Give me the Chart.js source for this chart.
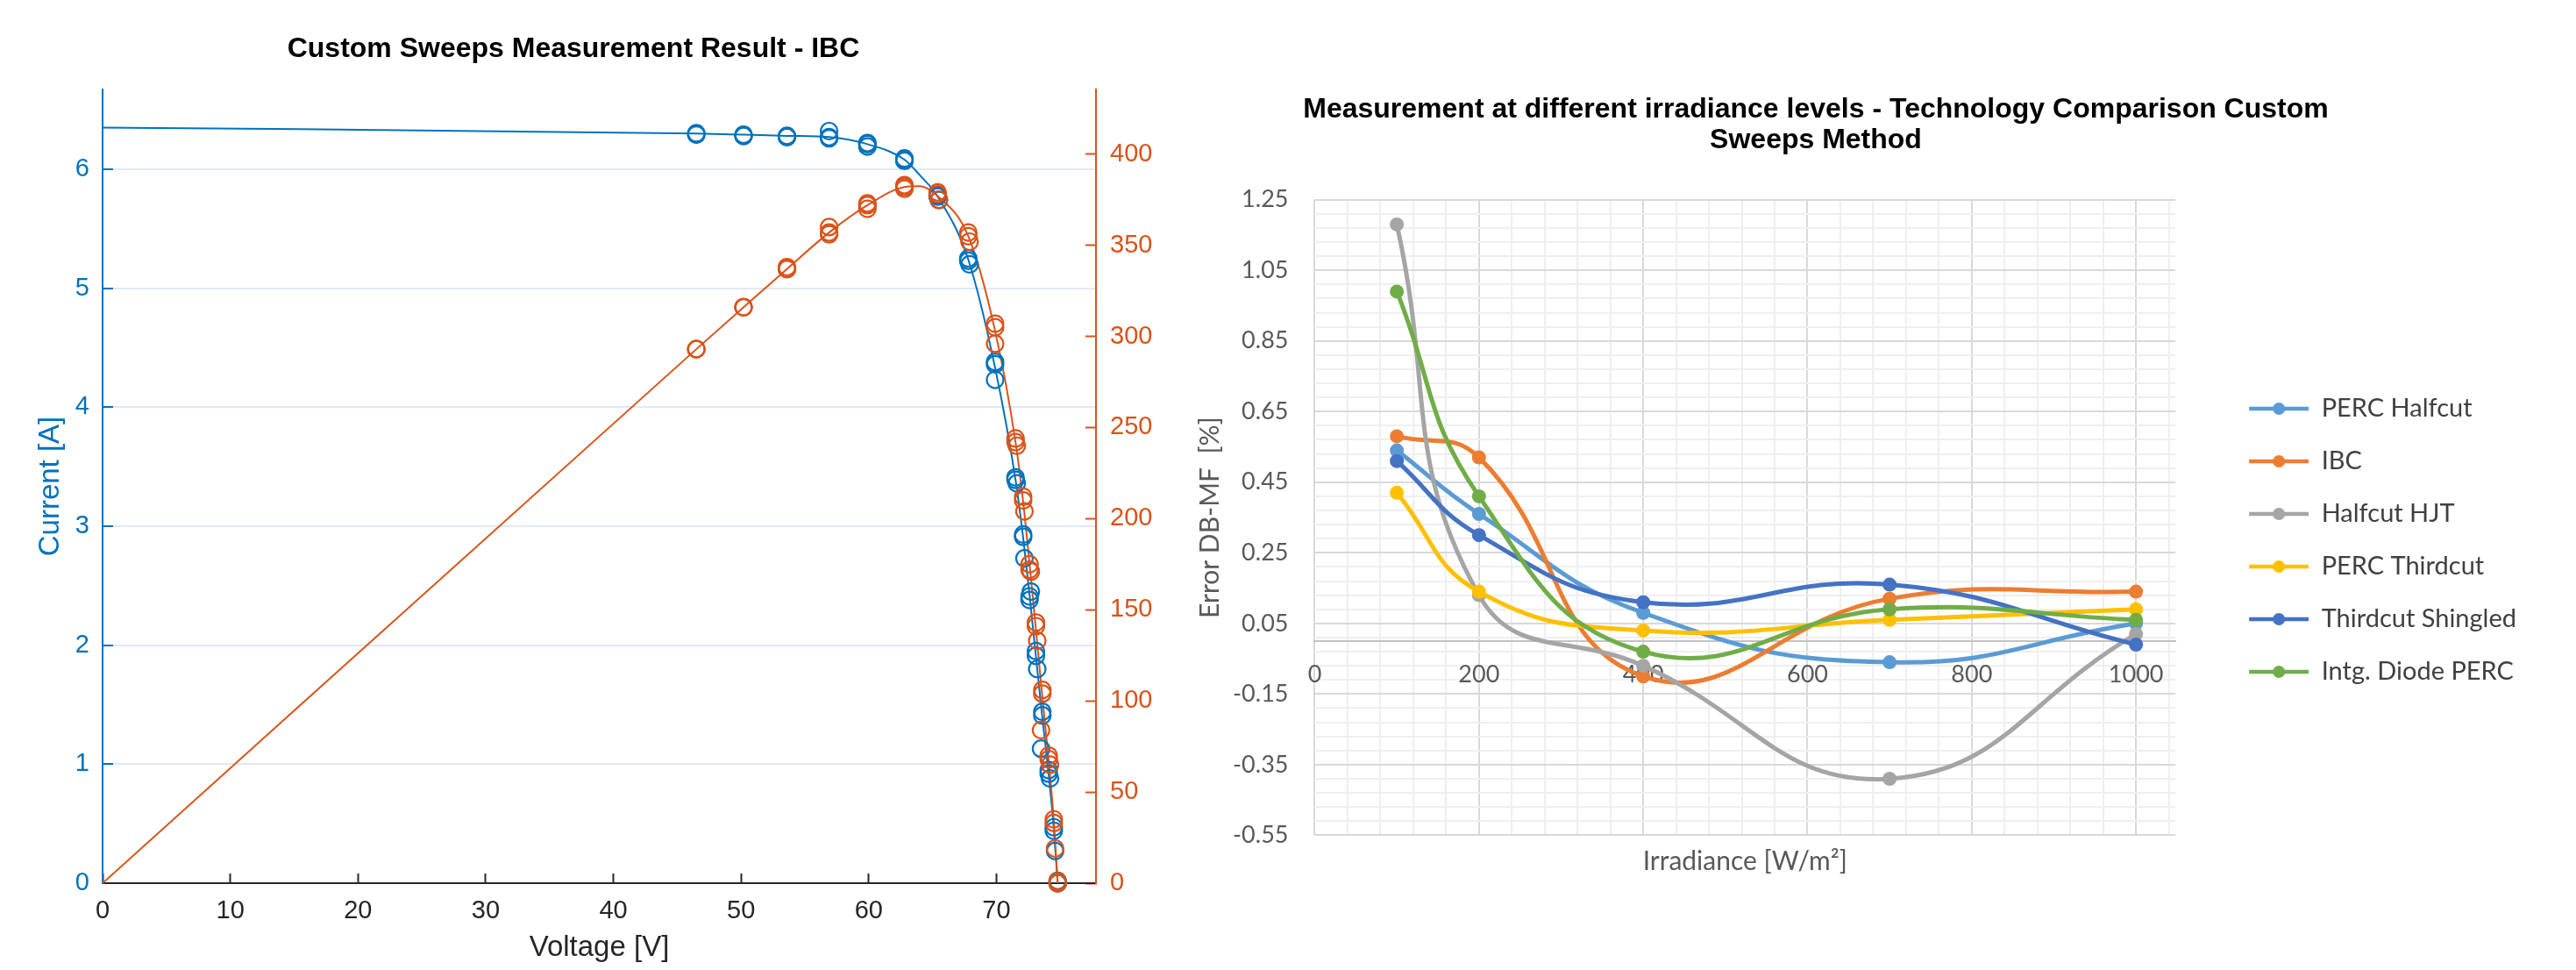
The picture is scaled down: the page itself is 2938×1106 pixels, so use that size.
<!DOCTYPE html>
<html lang="en">
<head>
<meta charset="utf-8">
<title>Custom Sweeps - IBC / Technology Comparison</title>
<script src="https://cdn.jsdelivr.net/npm/chart.js@4.4.1/dist/chart.umd.min.js"></script>
<style>
  html, body { margin: 0; padding: 0; background: #ffffff; }
  #page { position: relative; width: 2938px; height: 1106px; background: #ffffff; overflow: hidden; }
  #iv-chart { position: absolute; left: -20px; top: 0; }
  #err-chart { position: absolute; left: 1266px; top: 0; }
</style>
</head>
<body>
<div id="page">
  <canvas id="iv-chart" width="1348" height="1106"></canvas>
  <canvas id="err-chart" width="1610" height="1106"></canvas>
</div>
<script>
'use strict';

// *************** GLOBALS - LEFT CHART (IV / PV SWEEPS, IBC)
let voltageTicks = [0, 10, 20, 30, 40, 50, 60, 70];
let currentTicks = [0, 1, 2, 3, 4, 5, 6];
let powerTicks = [0, 50, 100, 150, 200, 250, 300, 350, 400];

// fitted curves
let fitVoltage = [0, 46.5, 50.2, 53.6, 56.9, 59.9, 62.8, 64.0, 65.4, 67.8, 69.9, 71.5, 72.1, 72.6, 73.1, 73.6, 74.1, 74.5, 74.8];
let fitCurrent = [6.35, 6.30, 6.29, 6.28, 6.27, 6.21, 6.08, 5.95, 5.77, 5.24, 4.33, 3.39, 2.90, 2.42, 1.90, 1.39, 0.91, 0.45, 0];
let fitPower = [0, 293, 316, 337, 357, 372, 382, 382.5, 377, 355, 303, 242, 209, 175, 139, 102, 67, 34, 0];

// measured sweeps (circles)
let sweepVoltageA = [46.5, 50.2, 53.6, 56.9, 59.9, 62.8, 65.4, 67.8, 69.9, 71.5, 72.1, 72.6, 73.1, 73.6, 74.1, 74.5, 74.8];
let sweepVoltageB = [46.5, 50.2, 53.6, 56.9, 59.9, 62.8, 65.5, 67.9, 69.9, 71.6, 72.2, 72.7, 73.2, 73.5, 74.2, 74.6, 74.8];
let currentSweepA = [6.29, 6.28, 6.27, 6.26, 6.21, 6.08, 5.77, 5.23, 4.36, 3.39, 2.91, 2.41, 1.91, 1.41, 0.92, 0.47, 0];
let currentSweepB = [6.30, 6.29, 6.28, 6.32, 6.19, 6.07, 5.74, 5.20, 4.23, 3.36, 2.73, 2.45, 1.80, 1.13, 0.88, 0.27, 0.02];
let currentSweepC = [6.30, 6.28, 6.27, 6.27, 6.22, 6.09, 5.78, 5.25, 4.38, 3.41, 2.93, 2.38, 1.95, 1.44, 0.95, 0.44, 0];
let powerSweepA = [293, 316, 337, 356, 372, 382, 378, 355, 305, 242, 210, 175, 141, 104, 68, 35, 0];
let powerSweepB = [293, 316, 337, 360, 370, 381, 375, 352, 296, 240, 204, 171, 133, 84, 65, 19, 1];
let powerSweepC = [293, 316, 338, 357, 373, 383, 379, 357, 307, 244, 212, 172, 143, 106, 70, 33, 0];

// *************** GLOBALS - RIGHT CHART (ERROR VS IRRADIANCE)
let irradianceTicks = [0, 200, 400, 600, 800, 1000];
let errorTicks = [-0.55, -0.35, -0.15, 0.05, 0.25, 0.45, 0.65, 0.85, 1.05, 1.25];
let irradiance = [100, 200, 400, 700, 1000];
let technologies = ['PERC Halfcut', 'IBC', 'Halfcut HJT', 'PERC Thirdcut', 'Thirdcut Shingled', 'Intg. Diode PERC'];
let percHalfcut = [0.54, 0.36, 0.08, -0.06, 0.05];
let ibc = [0.58, 0.52, -0.10, 0.12, 0.14];
let halfcutHjt = [1.18, 0.13, -0.07, -0.39, 0.02];
let percThirdcut = [0.42, 0.14, 0.03, 0.06, 0.09];
let thirdcutShingled = [0.51, 0.30, 0.11, 0.16, -0.01];
let intgDiodePerc = [0.99, 0.41, -0.03, 0.09, 0.06];

// *************** STYLE
const BLUE = '#0072BD';
const ORANGE = '#D95319';
const AXIS_DARK = '#262626';
const MATLAB_FONT = '"Liberation Sans", Arial, sans-serif';
const EXCEL_FONT = 'Lato, "Noto Sans", sans-serif';
const EXCEL_GREY = '#595959';
let excelColors = ['#5B9BD5', '#ED7D31', '#A5A5A5', '#FFC000', '#4472C4', '#70AD47'];

Chart.defaults.font.family = MATLAB_FONT;

// ***************** HELPER FUNCTIONS UTILITIES

function toPoints(xs, ys) {
  let pts = [];
  for (let i = 0; i < xs.length; i++) {
    pts.push({ x: xs[i], y: ys[i] });
  }
  return pts;
}

function circleSet(xs, ys, color, axisId) {
  return {
    data: toPoints(xs, ys),
    yAxisID: axisId,
    showLine: false,
    pointStyle: 'circle',
    pointRadius: 9.5,
    pointBorderWidth: 2.2,
    pointBorderColor: color,
    pointBackgroundColor: 'rgba(0,0,0,0)',
    borderColor: color,
    clip: false
  };
}

function fitLine(xs, ys, color, axisId) {
  return {
    data: toPoints(xs, ys),
    yAxisID: axisId,
    showLine: true,
    pointRadius: 0,
    borderColor: color,
    borderWidth: 2,
    cubicInterpolationMode: 'monotone'
  };
}

function makeLegendIcon(color) {
  let icon = document.createElement('canvas');
  icon.width = 121;
  icon.height = 18;
  let c = icon.getContext('2d');
  c.strokeStyle = color;
  c.lineWidth = 4.5;
  c.beginPath();
  c.moveTo(53, 9);
  c.lineTo(121, 9);
  c.stroke();
  c.fillStyle = color;
  c.beginPath();
  c.arc(87, 9, 7, 0, Math.PI * 2);
  c.fill();
  return icon;
}

function isMajor(value, list) {
  for (let i = 0; i < list.length; i++) {
    if (Math.abs(list[i] - value) < 1e-6) return true;
  }
  return false;
}

// legend box = padding + icon + half font + widest text (+ small margin)
function measureLegendWidth() {
  let m = document.createElement('canvas').getContext('2d');
  m.font = '29px ' + EXCEL_FONT;
  let widest = 0;
  for (let i = 0; i < technologies.length; i++) {
    widest = Math.max(widest, m.measureText(technologies[i]).width);
  }
  return 31 + 121 + 14.5 + widest + 6;
}

// *********** LEFT CHART **************

function renderIvChart() {
  let ctx = document.getElementById('iv-chart');

  let datasets = [
    circleSet(sweepVoltageA, powerSweepA, ORANGE, 'y2'),
    circleSet(sweepVoltageB, powerSweepB, ORANGE, 'y2'),
    circleSet(sweepVoltageA, powerSweepC, ORANGE, 'y2'),
    circleSet(sweepVoltageA, currentSweepA, BLUE, 'y'),
    circleSet(sweepVoltageB, currentSweepB, BLUE, 'y'),
    circleSet(sweepVoltageA, currentSweepC, BLUE, 'y'),
    fitLine(fitVoltage, fitPower, ORANGE, 'y2'),
    fitLine(fitVoltage, fitCurrent, BLUE, 'y')
  ];

  new Chart(ctx, { // eslint-disable-line
    type: 'scatter',
    data: { datasets: datasets },
    options: {
      responsive: false,
      animation: false,
      events: [],
      layout: { padding: 0 },
      plugins: {
        legend: { display: false },
        tooltip: { enabled: false },
        title: {
          display: true,
          text: 'Custom Sweeps Measurement Result - IBC',
          color: '#000000',
          font: { family: MATLAB_FONT, size: 32, weight: 'bold', lineHeight: 1.2 },
          padding: { top: 36.8, bottom: 26.8 }
        }
      },
      scales: {
        x: {
          type: 'linear',
          position: 'bottom',
          min: 0,
          max: 77.8,
          afterBuildTicks: (axis) => { axis.ticks = voltageTicks.map(v => ({ value: v })); },
          afterFit: (axis) => { axis.height = 99; },
          ticks: { color: AXIS_DARK, font: { size: 29 }, padding: 26, autoSkip: false, maxRotation: 0 },
          grid: { drawOnChartArea: false, tickLength: -11, tickColor: AXIS_DARK, tickWidth: 2 },
          border: { color: AXIS_DARK, width: 2 },
          title: { display: true, text: 'Voltage [V]', color: AXIS_DARK, font: { size: 33 }, padding: { top: 0, bottom: 5 } }
        },
        y: {
          type: 'linear',
          position: 'left',
          min: 0,
          max: 6.67,
          afterBuildTicks: (axis) => { axis.ticks = currentTicks.map(v => ({ value: v })); },
          afterFit: (axis) => { axis.width = 137; },
          ticks: { color: BLUE, font: { size: 29 }, padding: 27, autoSkip: false },
          grid: { color: '#dfeaf6', lineWidth: 2, tickLength: -12, tickColor: BLUE, tickWidth: 2 },
          border: { color: BLUE, width: 2 },
          title: { display: true, text: 'Current [A]', color: BLUE, font: { size: 33 }, padding: { top: 58.2, bottom: 0 } }
        },
        y2: {
          type: 'linear',
          position: 'right',
          min: 0,
          max: 435.5,
          afterBuildTicks: (axis) => { axis.ticks = powerTicks.map(v => ({ value: v })); },
          afterFit: (axis) => { axis.width = 78; },
          ticks: { color: ORANGE, font: { size: 29 }, padding: 28, autoSkip: false },
          grid: { drawOnChartArea: false, tickLength: -12, tickColor: ORANGE, tickWidth: 2 },
          border: { color: ORANGE, width: 2 }
        }
      }
    }
  });
}

// *********** RIGHT CHART **************

function renderErrChart() {
  let ctx = document.getElementById('err-chart');
  let series = [percHalfcut, ibc, halfcutHjt, percThirdcut, thirdcutShingled, intgDiodePerc];

  // place the canvas so the plot spans 1500..2481 px and the title centres on 2071 px
  let legendWidth = measureLegendWidth();
  let canvasLeft = 1661 - legendWidth;
  let canvasWidth = Math.round(2 * (410 + legendWidth));
  ctx.style.left = canvasLeft + 'px';
  ctx.width = canvasWidth;
  ctx.height = 1106;

  let datasets = [];
  for (let i = 0; i < series.length; i++) {
    datasets.push({
      label: technologies[i],
      data: toPoints(irradiance, series[i]),
      xAxisID: 'x',
      yAxisID: 'y',
      showLine: true,
      tension: 0.45,
      borderColor: excelColors[i],
      backgroundColor: excelColors[i],
      borderWidth: 5,
      pointRadius: 8,
      pointBorderWidth: 0,
      pointBackgroundColor: excelColors[i],
      order: series.length - i
    });
  }

  // minor grid every 40 W/m2 and every 0.04 %
  let xGrid = [];
  for (let v = 0; v <= 1040; v += 40) xGrid.push({ value: v });
  let yGrid = [];
  for (let k = 0; k <= 45; k++) yGrid.push({ value: Math.round((-0.55 + k * 0.04) * 100) / 100 });

  new Chart(ctx, { // eslint-disable-line
    type: 'scatter',
    data: { datasets: datasets },
    options: {
      responsive: false,
      animation: false,
      events: [],
      layout: { padding: 0 },
      plugins: {
        tooltip: { enabled: false },
        title: {
          display: true,
          text: ['Measurement at different irradiance levels - Technology Comparison Custom', 'Sweeps Method'],
          color: '#000000',
          font: { family: MATLAB_FONT, size: 32, weight: 'bold', lineHeight: 1.1 },
          padding: { top: 107.4, bottom: 49.9 }
        },
        legend: {
          position: 'right',
          align: 'start',
          maxWidth: legendWidth,
          title: { display: true, text: '', font: { size: 10, lineHeight: 1.2 }, padding: { top: 408.5, bottom: 0 } },
          labels: {
            color: '#404040',
            font: { family: EXCEL_FONT, size: 29 },
            padding: 31,
            usePointStyle: true,
            pointStyleWidth: 121,
            sort: (a, b) => a.datasetIndex - b.datasetIndex,
            generateLabels: (chart) => {
              let items = Chart.defaults.plugins.legend.labels.generateLabels(chart); // eslint-disable-line
              return items.map(item => {
                item.pointStyle = makeLegendIcon(excelColors[item.datasetIndex]);
                return item;
              });
            }
          }
        }
      },
      scales: {
        x: {
          type: 'linear',
          position: { y: 0 },
          min: 0,
          max: 1048,
          afterBuildTicks: (axis) => { axis.ticks = xGrid.slice(); },
          ticks: {
            color: EXCEL_GREY,
            font: { family: EXCEL_FONT, size: 27 },
            padding: 22,
            autoSkip: false,
            maxRotation: 0,
            callback: (value) => (isMajor(value, irradianceTicks) ? String(value) : '')
          },
          grid: {
            drawTicks: false,
            lineWidth: 2,
            color: (c) => (isMajor(c.tick.value, irradianceTicks) ? '#d9d9d9' : '#efefef')
          },
          border: { color: '#c3c3c3', width: 2 }
        },
        xt: {
          type: 'linear',
          position: 'bottom',
          min: 0,
          max: 1048,
          afterFit: (axis) => { axis.height = 153.6; },
          ticks: { display: false },
          grid: { display: false },
          border: { display: false },
          title: {
            display: true,
            text: 'Irradiance [W/m²]',
            color: EXCEL_GREY,
            font: { family: EXCEL_FONT, size: 30 },
            padding: { top: 0, bottom: 106 }
          }
        },
        y: {
          type: 'linear',
          position: 'left',
          min: -0.55,
          max: 1.25,
          afterBuildTicks: (axis) => { axis.ticks = yGrid.slice(); },
          afterFit: (axis) => { axis.width = 1499.6 - canvasLeft; },
          ticks: {
            color: EXCEL_GREY,
            font: { family: EXCEL_FONT, size: 27 },
            padding: 30,
            autoSkip: false,
            callback: (value) => (isMajor(value, errorTicks) ? value.toFixed(2) : '')
          },
          grid: {
            drawTicks: false,
            lineWidth: 2,
            color: (c) => (isMajor(c.tick.value, errorTicks) ? '#d9d9d9' : '#efefef')
          },
          border: { display: false },
          title: {
            display: true,
            text: 'Error DB-MF  [%]',
            color: EXCEL_GREY,
            font: { family: EXCEL_FONT, size: 30 },
            padding: { top: 1380 - canvasLeft - 18, bottom: 0 }
          }
        }
      }
    }
  });
}

// **************** EXECUTABLE CODE
renderIvChart();
renderErrChart();
</script>
</body>
</html>
